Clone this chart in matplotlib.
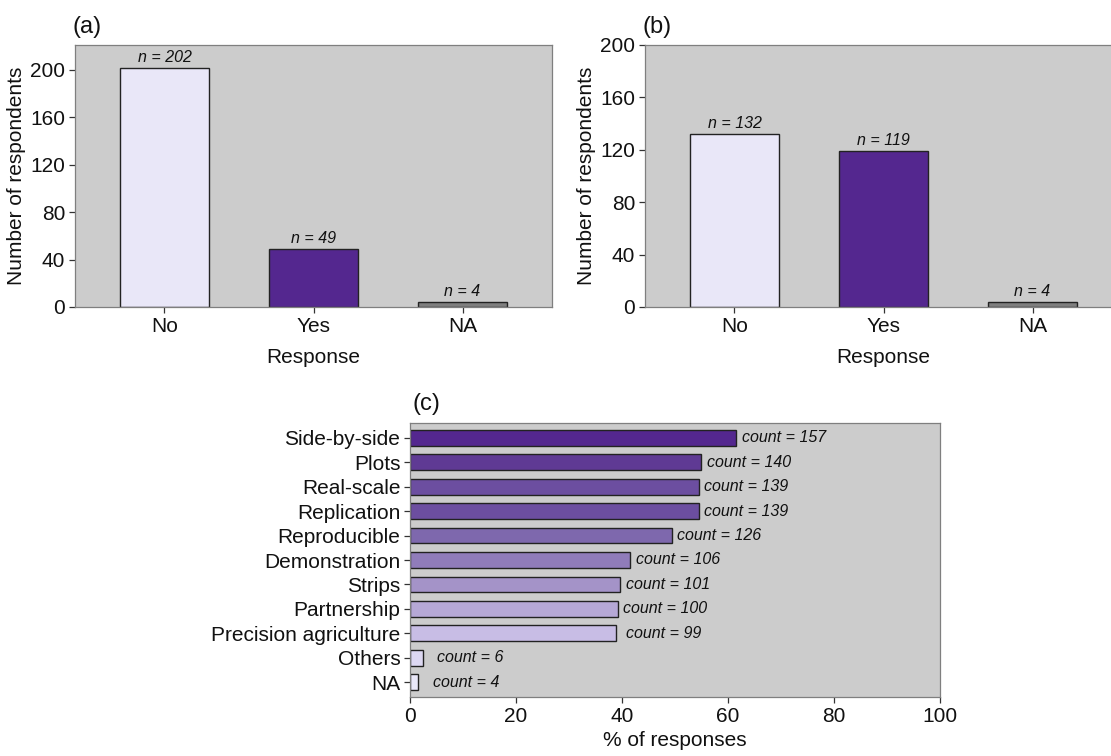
import matplotlib.pyplot as plt
import numpy as np

plt.rcParams['font.family'] = ['Liberation Sans', 'DejaVu Sans']

responses = ['No', 'Yes', 'NA']
counts_a = [202, 49, 4]
counts_b = [132, 119, 4]
resp_colors = ['#E9E7F8', '#54278F', '#7F7F7F']

methods = ['Side-by-side', 'Plots', 'Real-scale', 'Replication', 'Reproducible',
           'Demonstration', 'Strips', 'Partnership', 'Precision agriculture',
           'Others', 'NA']
method_counts = [157, 140, 139, 139, 126, 106, 101, 100, 99, 6, 4]
method_pct = [61.6, 54.9, 54.5, 54.5, 49.4, 41.6, 39.6, 39.2, 38.8, 2.4, 1.6]
method_colors = ['#54278F', '#5F3A94', '#6C4EA0', '#6C4EA0', '#7E68AD', '#907CBA',
                 '#A493C8', '#B6A8D6', '#C8BDE5', '#DDD8F2', '#E9E7F8']

W, H = 1111, 756
fig = plt.figure(figsize=(W / 100, H / 100), dpi=100)

bg = '#CCCCCC'
spine_col = '#7F7F7F'
tick_col = '#333333'
txt = '#111111'


def style(ax):
    ax.set_facecolor(bg)
    for s in ax.spines.values():
        s.set_color(spine_col)
        s.set_linewidth(0.9)
    ax.tick_params(colors=tick_col, labelcolor=txt, labelsize=15,
                   length=4, width=0.9, pad=3)


def bar_panel(rect, counts, ymax, label):
    ax = fig.add_axes(rect)
    style(ax)
    x = np.arange(len(responses))
    ax.bar(x, counts, width=0.6, color=resp_colors, edgecolor='#222222',
           linewidth=1.0, zorder=2)
    for xi, c in zip(x, counts):
        ax.annotate(f'n = {c}', (xi, c), xytext=(0, 2), textcoords='offset points',
                    ha='center', va='bottom', fontsize=11.5, style='italic',
                    color=txt)
    ax.set_xlim(-0.6, len(responses) - 0.4)
    ax.set_ylim(0, ymax)
    ax.set_yticks([0, 40, 80, 120, 160, 200])
    ax.set_xticks(x)
    ax.set_xticklabels(responses)
    ax.set_xlabel('Response', fontsize=15, labelpad=9, color=txt)
    ax.set_ylabel('Number of respondents', fontsize=15, labelpad=3, color=txt)
    ax.text(-0.005, 1.07, label, transform=ax.transAxes, fontsize=17,
            ha='left', va='center', color=txt)
    return ax


def rect(l, t, r, b):
    return [l / W, 1 - b / H, (r - l) / W, (b - t) / H]


bar_panel(rect(75, 45, 552, 307), counts_a, 221, '(a)')
bar_panel(rect(645, 45, 1122, 307), counts_b, 200, '(b)')

# panel (c)
axc = fig.add_axes(rect(410, 423, 940, 697))
style(axc)
y = np.arange(len(methods))
axc.barh(y, method_pct, height=0.65, color=method_colors, edgecolor='#222222',
         linewidth=1.0, zorder=2)
for yi, p, c in zip(y, method_pct, method_counts):
    axc.text(p + 9, yi, f'count = {c}', ha='center', va='center', fontsize=11.5,
             style='italic', color=txt)
axc.set_ylim(len(methods) - 0.4, -0.6)
axc.set_xlim(0, 100)
axc.set_yticks(y)
axc.set_yticklabels(methods)
axc.set_xticks([0, 20, 40, 60, 80, 100])
axc.set_xlabel('% of responses', fontsize=15, labelpad=4, color=txt)
axc.text(0.005, 1.07, '(c)', transform=axc.transAxes, fontsize=17,
         ha='left', va='center', color=txt)

fig.savefig('out.png', dpi=100)
